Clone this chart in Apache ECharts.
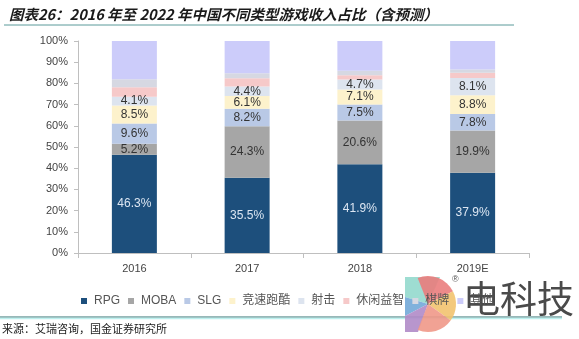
<!DOCTYPE html>
<html><head><meta charset="utf-8">
<script src="https://cdn.jsdelivr.net/npm/echarts@6/dist/echarts.min.js"></script>
<style>html,body{margin:0;padding:0;background:#fff;}#c{width:579px;height:339px;}</style>
</head><body><div id="c"></div>
<script>
const categories = ['2016', '2017', '2018', '2019E'];
const seriesNames = ['RPG', 'MOBA', 'SLG', '竞速跑酷', '射击', '休闲益智', '棋牌', '其他'];
const rpg   = [46.3, 35.5, 41.9, 37.9];
const moba  = [5.2, 24.3, 20.6, 19.9];
const slg   = [9.6, 8.2, 7.5, 7.8];
const racing= [8.5, 6.1, 7.1, 8.8];
const shoot = [4.1, 4.4, 4.7, 8.1];
const casual= [4.5, 3.9, 2.0, 2.5];
const chess = [3.8, 2.4, 2.2, 1.6];
const other = [18.0, 15.2, 14.0, 13.4];
const yTicks = [0, 10, 20, 30, 40, 50, 60, 70, 80, 90, 100];
const labeled = [true, true, true, true, true, false, false, false];
const colors = ['#1d4f7c', '#a6a6a6', '#b9c9e6', '#fdf2cc', '#dde4ef', '#f6c9c9', '#d6d8e2', '#ccccfa'];
const labelColors = ['#dce6f2', '#333', '#333', '#333', '#333', '#333', '#333', '#333'];
const allData = [rpg, moba, slg, racing, shoot, casual, chess, other];

const chart = echarts.init(document.getElementById('c'));
const series = seriesNames.map((n, i) => ({
  name: n, type: 'bar', stack: 's', barWidth: 45,
  data: allData[i],
  itemStyle: { color: colors[i] },
  label: {
    show: labeled[i], position: 'inside', color: labelColors[i],
    fontSize: 12, fontFamily: 'Liberation Sans, Arial',
    formatter: p => p.value.toFixed(1) + '%'
  },
  emphasis: { disabled: true }
}));
const cx = 428, cy = 304, R = 28;
chart.setOption({
  animation: false,
  title: {
    text: '图表26：2016 年至 2022 年中国不同类型游戏收入占比（含预测）',
    left: 4, top: 2,
    textStyle: { fontSize: 14.5, fontWeight: 'bold', fontStyle: 'italic', color: '#1a1a1a', fontFamily: 'Noto Sans CJK SC' }
  },
  grid: { left: 78, right: 50, top: 41, bottom: 86 },
  legend: {
    data: seriesNames, left: 76, top: 290, itemWidth: 6, itemHeight: 6, itemGap: 8,
    icon: 'rect',
    textStyle: { fontSize: 12, color: '#555', fontFamily: 'Liberation Sans, Noto Sans CJK SC', padding: [0, 0, 0, 2] }
  },
  xAxis: {
    type: 'category', data: categories,
    axisLine: { lineStyle: { color: '#bfbfbf' } },
    axisTick: { show: true, lineStyle: { color: '#bfbfbf' } },
    axisLabel: { color: '#444', fontSize: 11, margin: 10, fontFamily: 'Liberation Sans, Arial' }
  },
  yAxis: {
    type: 'value', min: 0, max: 100, interval: 10,
    axisLine: { show: true, lineStyle: { color: '#bfbfbf' } },
    axisTick: { show: true, length: 4, lineStyle: { color: '#bfbfbf' } },
    splitLine: { show: false },
    axisLabel: { color: '#444', fontSize: 11, margin: 10, fontFamily: 'Liberation Sans, Arial',
      formatter: v => yTicks.includes(v) ? v + '%' : '' }
  },
  graphic: [
    { type: 'line', shape: { x1: 4, y1: 25, x2: 514, y2: 25 }, style: { stroke: '#5a9a9a', lineWidth: 1 } },
    { type: 'line', shape: { x1: 0, y1: 317, x2: 562, y2: 317 }, style: { stroke: '#2f7070', lineWidth: 1 } },
    { type: 'line', shape: { x1: 0, y1: 318.5, x2: 562, y2: 318.5 }, style: { stroke: '#bdf0ee', lineWidth: 1.5 } },
    { type: 'text', left: 2, top: 323, style: { text: '来源：艾瑞咨询，国金证券研究所', fill: '#222', font: '11px "Noto Sans CJK SC"' } },
    { type: 'polygon', shape: { points: [[405, 277], [440, 277], [cx, cy], [405, 297]] }, style: { fill: '#93d9cd', opacity: 0.9 } },
    { type: 'polygon', shape: { points: [[405, 297], [cx, cy], [405, 316]] }, style: { fill: '#72a9d8', opacity: 0.9 } },
    { type: 'polygon', shape: { points: [[405, 316], [cx, cy], [418, 332], [405, 332]] }, style: { fill: '#b08bc8', opacity: 0.9 } },
    { type: 'sector', shape: { cx: cx, cy: cy, r: R, r0: 0, startAngle: -Math.PI * 0.62, endAngle: -Math.PI * 0.15 }, style: { fill: '#ea7d7d', opacity: 0.9 } },
    { type: 'sector', shape: { cx: cx, cy: cy, r: R, r0: 0, startAngle: -Math.PI * 0.15, endAngle: Math.PI * 0.2 }, style: { fill: '#f2c36f', opacity: 0.9 } },
    { type: 'sector', shape: { cx: cx, cy: cy, r: R, r0: 0, startAngle: Math.PI * 0.2, endAngle: Math.PI * 0.62 }, style: { fill: '#ef9888', opacity: 0.9 } },
    { type: 'text', left: 452, top: 275, style: { text: '®', fill: '#555', font: '9px "Liberation Sans"' } },
    { type: 'text', left: 463, top: 280, style: { text: '电科技', fill: '#4a4a4a', font: '37px "Noto Sans CJK SC"' } }
  ],
  series: series
});
</script></body></html>
